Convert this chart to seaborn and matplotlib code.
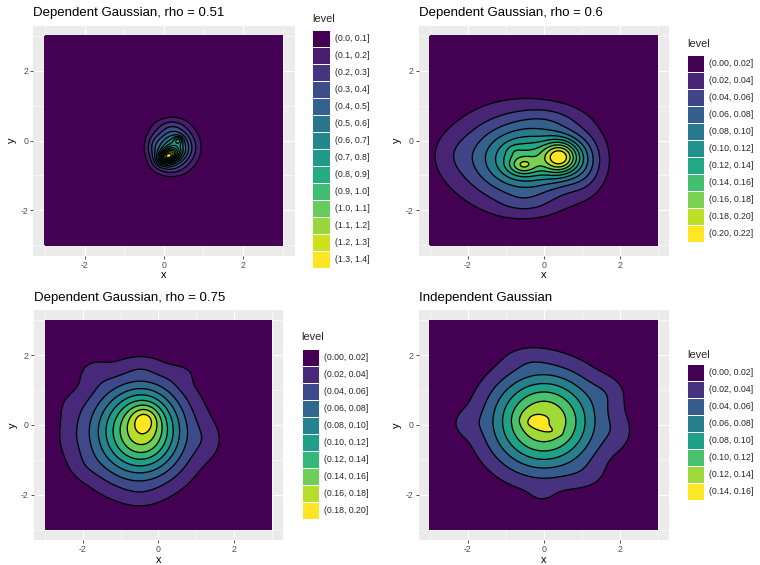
import numpy as np
import matplotlib
matplotlib.use("Agg")
import matplotlib.pyplot as plt
import seaborn as sns
from matplotlib.patches import Patch

# ---------------- data ----------------
titles = ["Dependent Gaussian, rho = 0.51", "Dependent Gaussian, rho = 0.6",
          "Dependent Gaussian, rho = 0.75", "Independent Gaussian"]

# legend breaks (density levels) per panel
p1_breaks = [0.0, 0.1, 0.2, 0.3, 0.4, 0.5, 0.6, 0.7, 0.8, 0.9, 1.0, 1.1, 1.2, 1.3, 1.4]
p2_breaks = [0.00, 0.02, 0.04, 0.06, 0.08, 0.10, 0.12, 0.14, 0.16, 0.18, 0.20, 0.22]
p3_breaks = [0.00, 0.02, 0.04, 0.06, 0.08, 0.10, 0.12, 0.14, 0.16, 0.18, 0.20]
p4_breaks = [0.00, 0.02, 0.04, 0.06, 0.08, 0.10, 0.12, 0.14, 0.16]
label_decimals = [1, 2, 2, 2]

# density surfaces, as blobs:
# centre x, centre y, sd x, sd y, correlation, mass
p1_mx = [0.25, 0.10, 0.12, 0.37, 0.10, 0.15, -0.25]
p1_my = [-0.20, -0.45, -0.48, 0.01, -0.80, 0.45, -0.20]
p1_sx = [0.35, 0.17, 0.07, 0.08, 0.25, 0.30, 0.15]
p1_sy = [0.40, 0.15, 0.05, 0.08, 0.15, 0.17, 0.30]
p1_r = [0.0, 0.3, 0.0, 0.0, 0.0, 0.0, 0.0]
p1_w = [0.616, 0.12, 0.001, 0.010, 0.02, 0.025, 0.03]

p2_mx = [-0.60, -0.35, 0.45, -0.55, -0.78, 1.05, 0.20, -0.50, -2.40]
p2_my = [-0.50, -0.55, -0.47, -0.72, -0.28, -0.60, 0.60, -1.80, -0.40]
p2_sx = [1.20, 0.65, 0.33, 0.25, 0.15, 0.35, 0.60, 0.50, 0.40]
p2_sy = [0.95, 0.50, 0.35, 0.18, 0.12, 0.55, 0.30, 0.25, 0.45]
p2_r = [0.0, 0.0, 0.0, 0.0, 0.0, 0.0, 0.0, 0.0, 0.0]
p2_w = [0.68, 0.102, 0.0885, 0.0127, 0.0011, 0.042, 0.017, 0.0094, 0.009]

p3_mx = [-0.55, -0.35, -0.35, -1.75, -2.40, 1.35, -0.45, 0.65, -0.45, -2.40, -2.00]
p3_my = [-0.20, -0.05, 0.20, 1.55, -0.40, -0.45, -2.05, 1.50, 1.70, 0.60, -1.20]
p3_sx = [0.98, 0.50, 0.25, 0.30, 0.30, 0.30, 0.35, 0.30, 0.35, 0.30, 0.30]
p3_sy = [1.05, 0.70, 0.25, 0.30, 0.50, 0.40, 0.25, 0.20, 0.20, 0.35, 0.30]
p3_r = [0.0, 0.0, 0.0, 0.0, 0.0, 0.0, 0.0, 0.0, 0.0, 0.0, 0.0]
p3_w = [0.886, 0.092, 0.0098, 0.0068, 0.006, 0.009, 0.002, 0.003, 0.003, 0.004, 0.0034]

p4_mx = [0.00, -0.38, 0.00, -2.10, -0.45, 1.75, 2.00, 1.20, -0.05]
p4_my = [0.10, 0.16, -0.10, 0.05, 1.95, 0.95, -0.20, -1.50, -2.00]
p4_sx = [1.02, 0.20, 0.30, 0.30, 0.45, 0.35, 0.30, 0.40, 0.25]
p4_sy = [1.02, 0.17, 0.12, 0.30, 0.25, 0.35, 0.40, 0.30, 0.20]
p4_r = [0.0, 0.0, -0.8, 0.0, 0.0, 0.0, 0.0, 0.0, 0.0]
p4_w = [0.922, 0.0019, 0.0012, 0.0068, 0.0057, 0.0092, 0.009, 0.006, 0.0025]

# ---------------- style ----------------
sns.set_theme(style="darkgrid", rc={
    "axes.facecolor": "#EBEBEB",
    "grid.color": "white",
    "figure.facecolor": "white",
})
plt.rcParams["font.family"] = ["Liberation Sans", "DejaVu Sans"]

W, H = 760, 565
fig = plt.figure(figsize=(7.6, 5.65), dpi=100)

def box(x0, y0, x1, y1):
    return [x0 / W, 1 - y1 / H, (x1 - x0) / W, (y1 - y0) / H]

panel_boxes = [(33.1, 25.5, 294.6, 255.5), (418.6, 25.5, 669.0, 255.5),
               (33.7, 309.9, 283.0, 540.0), (418.6, 309.9, 669.0, 540.0)]
legend_key_pos = [(312.3, 29.7), (687.0, 54.7), (301.7, 348.7), (687.0, 364.0)]
legend_title_pos = [(312.3, 19.0), (687.0, 44.0), (301.7, 337.0), (687.0, 355.0)]

panels = [
    (p1_mx, p1_my, p1_sx, p1_sy, p1_r, p1_w, p1_breaks),
    (p2_mx, p2_my, p2_sx, p2_sy, p2_r, p2_w, p2_breaks),
    (p3_mx, p3_my, p3_sx, p3_sy, p3_r, p3_w, p3_breaks),
    (p4_mx, p4_my, p4_sx, p4_sy, p4_r, p4_w, p4_breaks),
]

gx = np.linspace(-3, 3, 301)
GX, GY = np.meshgrid(gx, gx)

def surface(mx, my, sx, sy, rr, ww):
    Z = np.zeros_like(GX)
    for a, b, s, t, r, w in zip(mx, my, sx, sy, rr, ww):
        dx = (GX - a) / s
        dy = (GY - b) / t
        q = (dx ** 2 - 2 * r * dx * dy + dy ** 2) / (1 - r ** 2)
        Z += w / (2 * np.pi * s * t * np.sqrt(1 - r ** 2)) * np.exp(-q / 2)
    return Z

for i, (mx, my, sx, sy, rr, ww, breaks) in enumerate(panels):
    ax = fig.add_axes(box(*panel_boxes[i]))
    Z = surface(mx, my, sx, sy, rr, ww)
    n = len(breaks) - 1
    colors = [matplotlib.colormaps["viridis"](v) for v in np.linspace(0, 1, n)]
    lv = list(breaks)
    lv[0] = -1e-9
    ax.contourf(GX, GY, Z, levels=lv, colors=colors, zorder=1)
    ax.contour(GX, GY, Z, levels=breaks[1:-1], colors="black", linewidths=0.95, zorder=2)

    ax.set_xlim(-3.3, 3.3)
    ax.set_ylim(-3.3, 3.3)
    ax.set_xticks([-2, 0, 2])
    ax.set_yticks([-2, 0, 2])
    ax.set_xticks([-3, -1, 1, 3], minor=True)
    ax.set_yticks([-3, -1, 1, 3], minor=True)
    ax.set_xticklabels(["-2", "0", "2"])
    ax.set_yticklabels(["-2", "0", "2"])
    ax.grid(True, which="major", color="white", linewidth=0.8)
    ax.grid(True, which="minor", color="white", linewidth=0.4)
    ax.set_axisbelow(True)
    for sp in ax.spines.values():
        sp.set_visible(False)
    ax.tick_params(axis="both", which="major", length=2.0, width=0.6, color="#333333",
                   labelsize=6.3, labelcolor="#4D4D4D", pad=1.6, bottom=True, left=True)
    ax.tick_params(axis="both", which="minor", length=0)
    ax.set_xlabel("x", fontsize=7.9, labelpad=0.6, color="black")
    ax.set_ylabel("y", fontsize=7.9, labelpad=2.5, color="black")
    ax.set_title(titles[i], loc="left", fontsize=9.5, pad=6.5, color="black")

    d = label_decimals[i]
    labels = [f"({breaks[k]:.{d}f}, {breaks[k + 1]:.{d}f}]" for k in range(n)]
    handles = [Patch(facecolor=c, edgecolor="white", linewidth=0.7) for c in colors]
    kx, ky = legend_key_pos[i]
    ax.legend(handles=handles, labels=labels, loc="upper left",
              bbox_to_anchor=(kx / W, 1 - ky / H), bbox_transform=fig.transFigure,
              frameon=False, fontsize=6.3, handlelength=1.97, handleheight=2.61,
              labelspacing=0.0, handletextpad=0.6, borderpad=0, borderaxespad=0)
    tx, ty = legend_title_pos[i]
    fig.text(tx / W, 1 - ty / H, "level", fontsize=7.9, ha="left", va="center")

fig.savefig("out.png", dpi=100)
